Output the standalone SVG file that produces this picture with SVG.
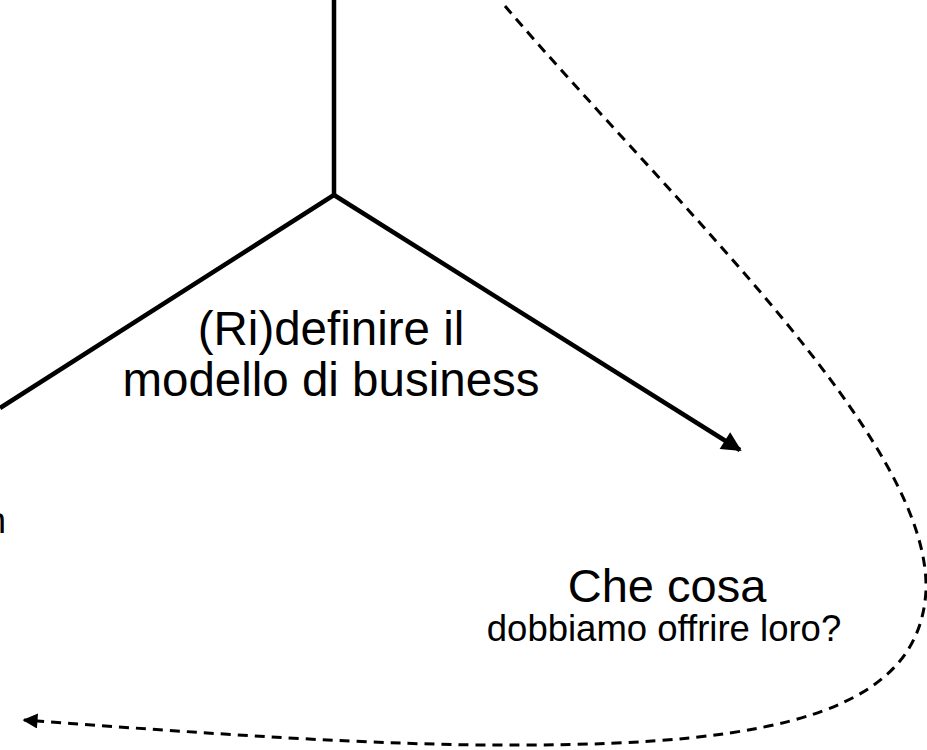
<svg xmlns="http://www.w3.org/2000/svg" width="927" height="750" viewBox="0 0 927 750">
  <style>
    .bg { fill: #ffffff; }
    .solid { fill: none; stroke: #000000; stroke-width: 4.5; stroke-linejoin: miter; }
    .dash { fill: none; stroke: #000000; stroke-width: 3; stroke-dasharray: 10 7; }
    .lbl { font-family: "Liberation Sans", Arial, sans-serif; fill: #000000; }
    .mid { text-anchor: middle; }
  </style>
  <defs>
    <marker id="arrowSolid" viewBox="0 0 10 10" refX="9" refY="5" markerWidth="4.6" markerHeight="4.4" markerUnits="strokeWidth" orient="auto">
      <path d="M0,0 L10,5 L0,10 Z" fill="#000000"/>
    </marker>
    <marker id="arrowDash" viewBox="0 0 10 10" refX="9" refY="5" markerWidth="5.5" markerHeight="5" markerUnits="strokeWidth" orient="auto">
      <path d="M0,0 L10,5 L0,10 Z" fill="#000000"/>
    </marker>
  </defs>
  <rect class="bg" x="0" y="0" width="927" height="750"/>

  <g id="connectors">
    <!-- trunk and left branch -->
    <path class="solid" d="M334,0 L334,195 L0,408"/>
    <!-- right branch with arrowhead -->
    <path class="solid" d="M334,195 L740,450" marker-end="url(#arrowSolid)"/>
    <!-- dashed loop returning to the left -->
    <path class="dash" d="M505,6 C675,205 930,440 926,590 C920,710 780,745 520,745 C380,746 200,733 24,720" marker-end="url(#arrowDash)"/>
  </g>

  <g id="node-business">
    <text class="lbl mid" x="331" y="345" font-size="47.5">(Ri)definire il</text>
    <text class="lbl mid" x="331" y="396" font-size="47.5">modello di business</text>
  </g>

  <g id="node-what">
    <text class="lbl mid" x="667" y="602" font-size="47">Che cosa</text>
    <text class="lbl mid" x="664" y="641" font-size="36.5">dobbiamo offrire loro?</text>
  </g>

  <g id="node-left">
    <text class="lbl" x="-14" y="533" font-size="36">n</text>
  </g>
</svg>
